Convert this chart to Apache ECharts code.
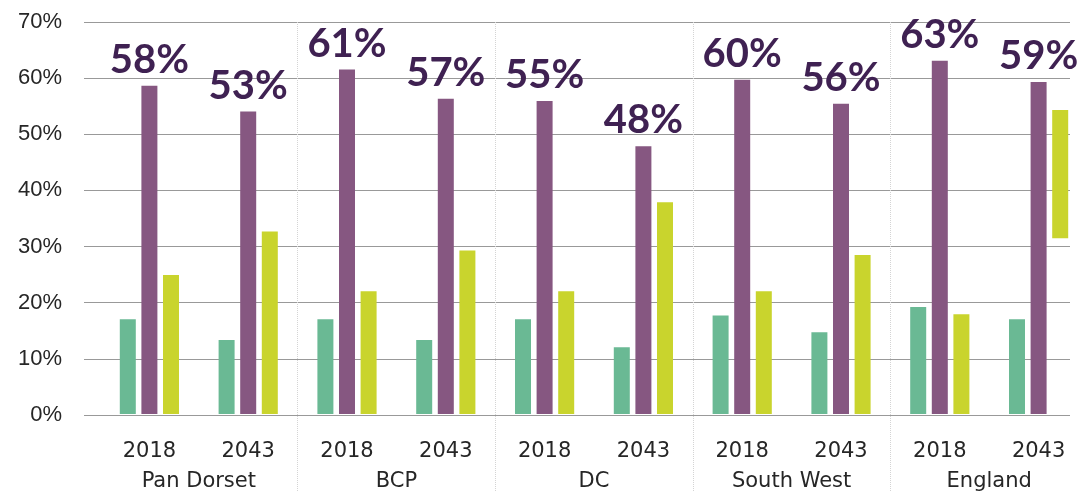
<!DOCTYPE html>
<html lang="en">
<head>
    <meta charset="UTF-8">
    <title>Population by age group</title>
    <script src="https://cdn.jsdelivr.net/npm/echarts@6/dist/echarts.min.js"></script>
    <style>
        html, body { margin: 0; padding: 0; background: #fff; }
    </style>
</head>
<body>
    <div id="main" style="width: 1088px;height:492px;"></div>

    <script>
        const years = ['2018', '2043', '2018', '2043', '2018', '2043', '2018', '2043', '2018', '2043'];
        const regions = ['Pan Dorset', 'BCP', 'DC', 'South West', 'England'];
        const yTicks = [0, 10, 20, 30, 40, 50, 60, 70];

        // % of population
        const young = [16.9, 13.2, 16.9, 13.2, 16.9, 11.9, 17.6, 14.6, 19.1, 16.9];
        const working = [58.6, 54.0, 61.5, 56.3, 55.9, 47.8, 59.7, 55.4, 63.1, 59.3];
        const workingLabels = ['58%', '53%', '61%', '57%', '55%', '48%', '60%', '56%', '63%', '59%'];
        const older = [24.8, 32.6, 21.9, 29.2, 21.9, 37.8, 21.9, 28.4, 17.8, 54.3];
        // the England 2043 bar does not start at zero in the original
        const olderBase = [0, 0, 0, 0, 0, 0, 0, 0, 0, 31.4];

        const myChart = echarts.init(document.getElementById('main'));
        drawChart();

        function drawChart() {
            const axisFont = 'DejaVu Sans';
            const olderHeight = older.map((v, i) => +(v - olderBase[i]).toFixed(1));

            let option = {
                animation: false,
                grid: [
                    { left: 84, right: 18, top: 22, bottom: 77 },
                    { left: 100, right: 0, top: 22, bottom: 77 }
                ],
                xAxis: [
                    { gridIndex: 0, type: 'category', data: years, show: false },
                    {
                        gridIndex: 1, type: 'category', data: years,
                        axisLine: { show: false },
                        axisTick: { show: false },
                        axisLabel: { color: '#262626', fontFamily: axisFont, fontSize: 21, margin: 27 }
                    },
                    {
                        gridIndex: 1, type: 'category', data: regions, position: 'bottom',
                        axisLine: { show: false },
                        axisTick: {
                            show: true, length: 77,
                            interval: (i) => i > 0,
                            lineStyle: { color: '#d4d4d4', type: 'dotted', width: 1 }
                        },
                        splitLine: {
                            show: true,
                            interval: (i) => i > 0,
                            lineStyle: { color: '#d4d4d4', type: 'dotted', width: 1 }
                        },
                        axisLabel: { color: '#262626', fontFamily: axisFont, fontSize: 21, margin: 57 }
                    }
                ],
                yAxis: [
                    {
                        gridIndex: 0, type: 'value', min: 0, max: 70, interval: 10,
                        axisLine: { show: false },
                        axisTick: { show: false },
                        axisLabel: {
                            formatter: (v) => yTicks.includes(v) ? v + '%' : '',
                            color: '#262626',
                            fontFamily: 'Liberation Sans', fontSize: 22, margin: 22
                        },
                        splitLine: { lineStyle: { color: '#999999', width: 1.2 } }
                    },
                    {
                        gridIndex: 1, type: 'value', min: 0, max: 70, interval: 10,
                        show: false, splitLine: { show: false }
                    }
                ],
                series: [
                    {
                        name: 'Young', type: 'bar', xAxisIndex: 1, yAxisIndex: 1,
                        data: young, barWidth: 16, barGap: '35%',
                        itemStyle: { color: '#6ab994' }
                    },
                    {
                        name: 'Working age', type: 'bar', xAxisIndex: 1, yAxisIndex: 1,
                        data: working, barWidth: 16, barGap: '35%',
                        itemStyle: { color: '#865781' },
                        label: {
                            show: true, position: 'top', distance: 6,
                            formatter: (p) => workingLabels[p.dataIndex],
                            color: '#3f2152', fontFamily: 'Lato', fontWeight: 'bold', fontSize: 40
                        }
                    },
                    {
                        name: 'base', type: 'bar', xAxisIndex: 1, yAxisIndex: 1, stack: 'older',
                        data: olderBase, barWidth: 16, barGap: '35%',
                        itemStyle: { color: 'transparent' }, silent: true
                    },
                    {
                        name: 'Older', type: 'bar', xAxisIndex: 1, yAxisIndex: 1, stack: 'older',
                        data: olderHeight, barWidth: 16, barGap: '35%',
                        itemStyle: { color: '#c9d42d' }
                    }
                ]
            };

            myChart.setOption(option);
        }
    </script>
</body>
</html>
